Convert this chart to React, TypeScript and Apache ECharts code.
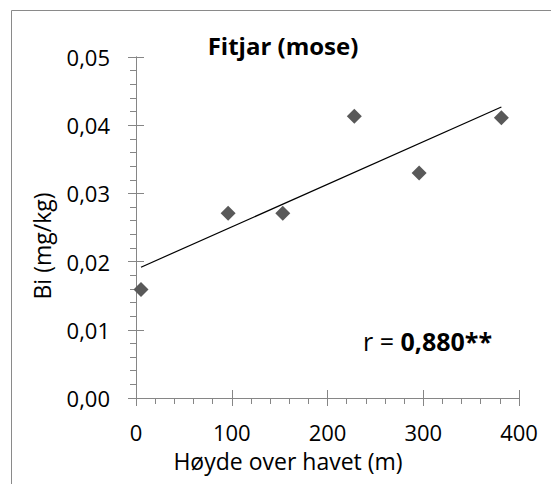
import React, { useEffect, useRef } from "react";
import * as echarts from "echarts";

const heights = [5.2, 96.2, 153.3, 228, 295.7, 381.6];
const biValues = [0.0159, 0.0271, 0.0271, 0.0413, 0.033, 0.0411];
const titleText = "Fitjar (mose)";
const xName = "Høyde over havet (m)";
const yName = "Bi (mg/kg)";
const rLabel = "r = ";
const rValue = "0,880**";

const FONT = '"Open Sans", "Noto Sans", sans-serif';
const AXIS_COLOR = "#868686";

function regression(xs: number[], ys: number[]) {
  const n = xs.length;
  const mx = xs.reduce((a, b) => a + b, 0) / n;
  const my = ys.reduce((a, b) => a + b, 0) / n;
  let sxy = 0;
  let sxx = 0;
  for (let i = 0; i < n; i++) {
    sxy += (xs[i] - mx) * (ys[i] - my);
    sxx += (xs[i] - mx) * (xs[i] - mx);
  }
  const slope = sxy / sxx;
  return { slope, intercept: my - slope * mx };
}

export default function App() {
  const ref = useRef<HTMLDivElement>(null);
  useEffect(() => {
    document.body.style.margin = "0";
    const chart = echarts.init(ref.current!, null, { renderer: "svg" });
    const { slope, intercept } = regression(heights, biValues);
    const xMin = Math.min(...heights);
    const xMax = Math.max(...heights);
    const trend = [
      [xMin, intercept + slope * xMin],
      [xMax, intercept + slope * xMax],
    ];
    const baseX = {
      type: "value" as const,
      min: 0,
      max: 400,
      interval: 100,
      position: "bottom" as const,
      splitLine: { show: false },
    };
    const baseY = {
      type: "value" as const,
      min: 0,
      max: 0.05,
      interval: 0.01,
      position: "left" as const,
      splitLine: { show: false },
    };
    chart.setOption({
      animation: false,
      grid: { left: 136, right: 32, top: 57, bottom: 86 },
      xAxis: [
        {
          ...baseX,
          axisLine: { show: true, lineStyle: { color: AXIS_COLOR, width: 1 } },
          axisTick: { show: true, length: 8, lineStyle: { color: AXIS_COLOR } },
          minorTick: { show: true, splitNumber: 5, length: 6, lineStyle: { color: AXIS_COLOR } },
          axisLabel: { margin: 23, fontSize: 22, color: "#000", fontFamily: FONT },
        },
        {
          ...baseX,
          axisLine: { show: true, lineStyle: { color: AXIS_COLOR, width: 1 } },
          axisTick: { show: true, inside: true, length: 8, lineStyle: { color: AXIS_COLOR } },
          minorTick: { show: false },
          axisLabel: { show: false },
        },
      ],
      yAxis: [
        {
          ...baseY,
          axisLine: { show: true, lineStyle: { color: AXIS_COLOR, width: 1 } },
          axisTick: { show: true, length: 8, lineStyle: { color: AXIS_COLOR } },
          minorTick: { show: true, splitNumber: 5, length: 6, lineStyle: { color: AXIS_COLOR } },
          axisLabel: {
            margin: 26,
            fontSize: 22,
            color: "#000",
            fontFamily: FONT,
            formatter: (v: number) => v.toFixed(2).replace(".", ","),
          },
        },
        {
          ...baseY,
          axisLine: { show: true, lineStyle: { color: AXIS_COLOR, width: 1 } },
          axisTick: { show: true, inside: true, length: 8, lineStyle: { color: AXIS_COLOR } },
          minorTick: { show: false },
          axisLabel: { show: false },
        },
      ],
      series: [
        {
          type: "line",
          xAxisIndex: 0,
          yAxisIndex: 0,
          data: trend,
          showSymbol: false,
          symbol: "none",
          lineStyle: { color: "#000", width: 1.2 },
          z: 3,
        },
        {
          type: "scatter",
          xAxisIndex: 0,
          yAxisIndex: 0,
          data: heights.map((h, i) => [h, biValues[i]]),
          symbol: "diamond",
          symbolSize: 15,
          itemStyle: { color: "#595959", opacity: 1 },
          z: 4,
        },
      ],
      graphic: [
        {
          type: "rect",
          shape: { x: 11.5, y: 10.5, width: 700, height: 700 },
          style: { fill: "none", stroke: "#8a8a8a", lineWidth: 1 },
          silent: true,
        },
        {
          type: "text",
          x: 283,
          y: 45,
          style: {
            text: titleText,
            fontSize: 24,
            fontWeight: "bold",
            fontFamily: FONT,
            fill: "#000",
            align: "center",
            verticalAlign: "middle",
          },
        },
        {
          type: "text",
          x: 288,
          y: 461,
          style: {
            text: xName,
            fontSize: 23,
            fontFamily: FONT,
            fill: "#000",
            align: "center",
            verticalAlign: "middle",
          },
        },
        {
          type: "text",
          x: 42,
          y: 246,
          rotation: Math.PI / 2,
          style: {
            text: yName,
            fontSize: 23,
            fontFamily: FONT,
            fill: "#000",
            align: "center",
            verticalAlign: "middle",
          },
        },
        {
          type: "text",
          x: 363,
          y: 341,
          style: {
            text: "{a|" + rLabel + "}{b|" + rValue + "}",
            verticalAlign: "middle",
            align: "left",
            rich: {
              a: { fontSize: 25, fontFamily: FONT, fill: "#000", color: "#000" },
              b: { fontSize: 25, fontFamily: FONT, fontWeight: "bold", fill: "#000", color: "#000" },
            },
          },
        },
      ],
    });
    return () => chart.dispose();
  }, []);
  return <div ref={ref} style={{ width: 551, height: 484 }} />;
}
